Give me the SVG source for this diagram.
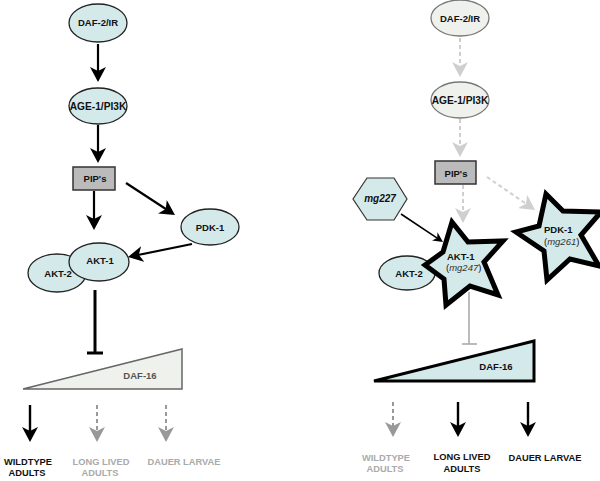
<svg xmlns="http://www.w3.org/2000/svg" width="600" height="481" viewBox="0 0 600 481">
<style>
text{font-family:"Liberation Sans",Arial,sans-serif;font-weight:bold;font-size:9.5px;text-anchor:middle;fill:#111}
.n{fill:#d4e9e9;stroke:#222;stroke-width:1.3}
.g{fill:#eef1ec;stroke:#777;stroke-width:1.3}
.pip{fill:#bbbbbb;stroke:#333;stroke-width:1.5}
.star{fill:#d4e9e9;stroke:#000;stroke-width:5;stroke-linejoin:miter}
.a{stroke:#000;stroke-width:2.2;fill:none;marker-end:url(#ah)}
.ab{stroke:#000;stroke-width:2.4;fill:none;marker-end:url(#ah)}
.al{stroke:#cfcfcf;stroke-width:2;stroke-dasharray:4 3;fill:none;marker-end:url(#ahl)}
.am{stroke:#999;stroke-width:2;stroke-dasharray:4 3;fill:none;marker-end:url(#ahm)}
.it{font-style:italic;font-weight:normal;fill:#333}
.lg{fill:#aaaaaa}
.s{text-anchor:start}
.b{font-size:9.3px}
</style>
<defs>
<marker id="ah" viewBox="0 -8 15 16" refX="5" refY="0" markerWidth="15" markerHeight="16" orient="auto" markerUnits="userSpaceOnUse"><path d="M15,0 L0,-8 L4,0 L0,8 Z" fill="#000"/></marker>
<marker id="ahl" viewBox="0 -8 15 16" refX="5" refY="0" markerWidth="15" markerHeight="16" orient="auto" markerUnits="userSpaceOnUse"><path d="M15,0 L0,-8 L4,0 L0,8 Z" fill="#cfcfcf"/></marker>
<marker id="ahm" viewBox="0 -8 15 16" refX="5" refY="0" markerWidth="15" markerHeight="16" orient="auto" markerUnits="userSpaceOnUse"><path d="M15,0 L0,-8 L4,0 L0,8 Z" fill="#999"/></marker>
<marker id="ahs" viewBox="0 -5 10 10" refX="3" refY="0" markerWidth="10" markerHeight="10" orient="auto" markerUnits="userSpaceOnUse"><path d="M10,0 L0,-5 L3,0 L0,5 Z" fill="#000"/></marker>
</defs>
<rect width="600" height="481" fill="#fff"/>

<g id="connectors">
<line class="a" x1="98" y1="44" x2="98" y2="72"/>
<line class="a" x1="98" y1="125" x2="98" y2="153"/>
<line class="a" x1="94" y1="191" x2="94" y2="220"/>
<line class="a" x1="126" y1="183" x2="166.6" y2="209.5"/>
<line class="a" x1="192" y1="244" x2="137.8" y2="255"/>
<line x1="95" y1="290" x2="95" y2="353" stroke="#000" stroke-width="3"/>
<line x1="87" y1="353" x2="103" y2="353" stroke="#000" stroke-width="3"/>
<line class="ab" x1="30" y1="405" x2="30" y2="432"/>
<line class="am" x1="97" y1="405" x2="97" y2="432"/>
<line class="am" x1="166" y1="405" x2="166" y2="432"/>

<line class="al" x1="460" y1="38" x2="460" y2="67"/>
<line class="al" x1="460" y1="119" x2="460" y2="147"/>
<line class="al" x1="463" y1="185" x2="463" y2="213"/>
<line class="al" x1="487" y1="177" x2="526.8" y2="204.3"/>
<line x1="401" y1="214" x2="437.2" y2="238.1" stroke="#000" stroke-width="1.6" marker-end="url(#ahs)"/>
<line x1="469" y1="292" x2="469" y2="344" stroke="#aaa" stroke-width="1.6"/>
<line x1="462" y1="344" x2="477" y2="344" stroke="#aaa" stroke-width="1.6"/>
<line class="am" x1="393" y1="402" x2="393" y2="427"/>
<line class="ab" x1="458" y1="402" x2="458" y2="427"/>
<line class="ab" x1="528" y1="402" x2="528" y2="427"/>
</g>

<g id="L-daf2"><ellipse class="n" cx="98" cy="23" rx="29" ry="19"/><text x="98" y="26">DAF-2/IR</text></g>
<g id="L-age1"><ellipse class="n" cx="98" cy="106" rx="29" ry="18"/><text x="98" y="109.5" style="font-size:10.2px">AGE-1/PI3K</text></g>
<g id="L-pip"><rect class="pip" x="73" y="167" width="42" height="23"/><text x="95" y="182">PIP's</text></g>
<g id="L-pdk1"><ellipse class="n" cx="210" cy="227" rx="29" ry="18"/><text x="210" y="230.5">PDK-1</text></g>
<g id="L-akt2"><ellipse class="n" cx="57" cy="273" rx="29" ry="19"/><text x="58" y="277">AKT-2</text></g>
<g id="L-akt1"><ellipse class="n" cx="99" cy="262" rx="30" ry="19"/><text x="100" y="263.5">AKT-1</text></g>
<g id="L-daf16"><polygon points="23,389 182,349 182,389" fill="#eef1ec" stroke="#666" stroke-width="1.5"/><text x="140" y="379" style="fill:#555">DAF-16</text></g>
<g id="L-wt"><text class="b" x="28" y="465">WILDTYPE</text><text class="b" x="27" y="476">ADULTS</text></g>
<g id="L-ll"><text class="lg b" x="101" y="465">LONG LIVED</text><text class="lg b" x="100" y="476">ADULTS</text></g>
<g id="L-dl"><text class="lg b" x="184" y="465">DAUER LARVAE</text></g>

<g id="R-daf2"><ellipse class="g" cx="460" cy="18" rx="29" ry="18"/><text x="460" y="22">DAF-2/IR</text></g>
<g id="R-age1"><ellipse class="g" cx="460" cy="100" rx="29" ry="18"/><text x="460" y="104" style="font-size:10.2px">AGE-1/PI3K</text></g>
<g id="R-pip"><rect class="pip" x="435" y="161" width="41" height="23"/><text x="456" y="177">PIP's</text></g>
<g id="R-mg227"><polygon points="367,178 394,178 407,199 394,220 367,220 353,199" fill="#d4e9e9" stroke="#333" stroke-width="1.2"/><text x="380" y="202" style="font-size:10px;font-style:italic">mg227</text></g>
<g id="R-akt2"><ellipse class="n" cx="407" cy="273" rx="28" ry="17"/><text x="409" y="277">AKT-2</text></g>
<g id="R-akt1"><polygon class="star" points="452,222 468,242 503,241 484,262 498,295 470,286 446,305 444,279 425,265 443,252"/><text class="s" x="447" y="260">AKT-1</text><text class="s" x="446" y="271" style="font-weight:normal;font-size:9.5px">(<tspan class="it">mg247</tspan>)</text></g>
<g id="R-pdk1"><polygon class="star" points="546,194 563,211 601,212 581,235 599,266 570,259 547,280 544,251 516,232 539,226"/><text class="s" x="544" y="233">PDK-1</text><text class="s" x="544" y="245" style="font-weight:normal;font-size:9.5px">(<tspan class="it">mg261</tspan>)</text></g>
<g id="R-daf16"><polygon points="374,381 534,341 534,381" fill="#d4e9e9" stroke="#000" stroke-width="3"/><text x="496" y="370">DAF-16</text></g>
<g id="R-wt"><text class="lg b" x="386" y="461">WILDTYPE</text><text class="lg b" x="385" y="472">ADULTS</text></g>
<g id="R-ll"><text class="b" x="462" y="460">LONG LIVED</text><text class="b" x="462" y="472">ADULTS</text></g>
<g id="R-dl"><text class="b" x="545" y="461">DAUER LARVAE</text></g>
</svg>
